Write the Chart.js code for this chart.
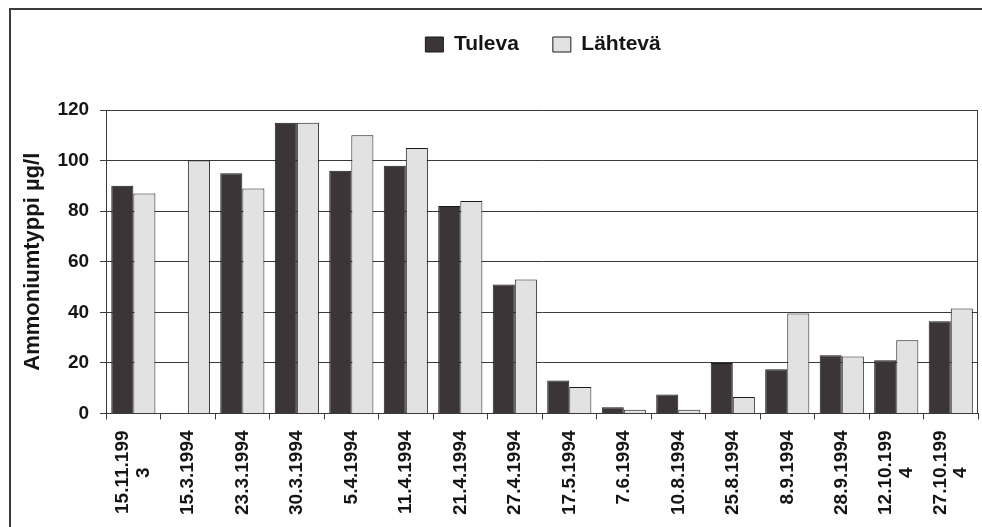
<!DOCTYPE html>
<html>
<head>
<meta charset="utf-8">
<script src="https://cdn.jsdelivr.net/npm/chart.js@4"></script>
<style>
  html, body { margin: 0; padding: 0; background: #fff; overflow: hidden; width: 982px; height: 527px; }
  #frame { position: absolute; left: 9px; top: 8px; width: 1000px; height: 1000px; border: 2px solid #3c3c3c; box-sizing: border-box; }
  canvas { position: absolute; left: 0; top: 0; }
</style>
</head>
<body>
<div id="frame"></div>
<canvas id="chart" width="982" height="527"></canvas>
<script>
// Sampling dates (long dates wrap onto a second line; the wrapped digit is padded so it sits mid-line)
const categories = [
  ['15.11.199', '3       '], '15.3.1994', '23.3.1994', '30.3.1994', '5.4.1994', '11.4.1994',
  '21.4.1994', '27.4.1994', '17.5.1994', '7.6.1994', '10.8.1994', '25.8.1994',
  '8.9.1994', '28.9.1994', ['12.10.199', '4       '], ['27.10.199', '4       ']
];

// Ammonium nitrogen, µg/l
const tuleva  = [90, null, 95, 115, 96, 98, 82, 51, 13, 2.5, 7.5, 20, 17.5, 23, 21, 36.5];
const lahteva = [87, 100, 89, 115, 110, 105, 84, 53, 10.5, 1.5, 1.5, 6.5, 39.5, 22.5, 29, 41.5];

const yTickValues = [0, 20, 40, 60, 80, 100, 120];

const FONT = 'Liberation Sans, Arial, sans-serif';
const INK = '#151515';
const LINE = '#3a3a3a';
const X_FONT_SIZE = 19;
const X_LINE_HEIGHT = 1.1;

// Extra room below the legend row
const legendSpacing = {
  id: 'legendSpacing',
  beforeInit(chart) {
    const fit = chart.legend.fit;
    chart.legend.fit = function () {
      fit.call(this);
      this.height += 45;
    };
  }
};

// Centre the legend over the plot area instead of the whole canvas
const legendOverPlot = {
  id: 'legendOverPlot',
  afterLayout(chart) {
    const lg = chart.legend, a = chart.chartArea;
    lg.left = a.left + 1;
    lg.right = a.right + 1;
    lg.width = a.right - a.left;
    if (lg.adjustHitBoxes) lg.adjustHitBoxes();
  }
};

// Centre two-line date labels as a block on their category
const centredWrappedLabels = {
  id: 'centredWrappedLabels',
  beforeDraw(chart) {
    const scale = chart.scales.x;
    const lh = X_FONT_SIZE * X_LINE_HEIGHT;
    scale.getLabelItems().forEach(item => {
      if (Array.isArray(item.label) && item.label.length > 1 && !item._centred) {
        item.options.translation[0] -= (item.label.length - 1) * lh / 2;
        item._centred = true;
      }
    });
  }
};

// Right-hand edge of the plot frame
const plotFrame = {
  id: 'plotFrame',
  afterDatasetsDraw(chart) {
    const { ctx, chartArea: a } = chart;
    ctx.save();
    ctx.strokeStyle = LINE;
    ctx.lineWidth = 1;
    ctx.beginPath();
    ctx.moveTo(Math.round(a.right) - 0.5, a.top);
    ctx.lineTo(Math.round(a.right) - 0.5, a.bottom);
    ctx.stroke();
    ctx.restore();
  }
};

new Chart(document.getElementById('chart'), {
  type: 'bar',
  data: {
    labels: categories,
    datasets: [
      {
        label: 'Tuleva',
        data: tuleva,
        backgroundColor: '#3b3537',
        borderColor: '#1a1a1a',
        borderWidth: 1,
        categoryPercentage: 0.81,
        barPercentage: 1.0
      },
      {
        label: 'Lähtevä',
        data: lahteva,
        backgroundColor: '#e2e2e2',
        borderColor: '#1a1a1a',
        borderWidth: 1,
        categoryPercentage: 0.81,
        barPercentage: 1.0
      }
    ]
  },
  options: {
    responsive: false,
    animation: false,
    events: [],
    layout: { padding: { left: 20, right: 4, top: 0, bottom: 1 } },
    plugins: {
      tooltip: { enabled: false },
      legend: {
        position: 'top',
        align: 'center',
        labels: {
          font: { family: FONT, size: 21, weight: 'bold' },
          color: INK,
          boxWidth: 18,
          boxHeight: 15,
          padding: 34
        }
      }
    },
    scales: {
      x: {
        offset: true,
        // the rotated date labels need no side margin of their own
        afterFit(axis) {
          axis.paddingLeft = 0;
          axis.paddingRight = 0;
        },
        grid: {
          offset: true,
          drawOnChartArea: false,
          drawTicks: true,
          tickLength: 6,
          color: LINE
        },
        border: { display: true, color: LINE, width: 1 },
        ticks: {
          autoSkip: false,
          minRotation: 90,
          maxRotation: 90,
          padding: 11,
          color: INK,
          font: { family: FONT, size: X_FONT_SIZE, weight: 'bold', lineHeight: X_LINE_HEIGHT }
        }
      },
      y: {
        min: 0,
        max: 120,
        afterBuildTicks(axis) {
          axis.ticks = yTickValues.map(v => ({ value: v }));
        },
        grid: {
          drawTicks: true,
          tickLength: 6,
          color: LINE,
          lineWidth: 1
        },
        border: { display: true, color: LINE, width: 1 },
        ticks: {
          padding: 11,
          color: INK,
          font: { family: FONT, size: 19, weight: 'bold' }
        },
        title: {
          display: true,
          text: 'Ammoniumtyppi µg/l',
          color: INK,
          font: { family: FONT, size: 22, weight: 'bold' },
          padding: { top: 0, bottom: 0 }
        }
      }
    }
  },
  plugins: [legendSpacing, legendOverPlot, centredWrappedLabels, plotFrame]
});
</script>
</body>
</html>
